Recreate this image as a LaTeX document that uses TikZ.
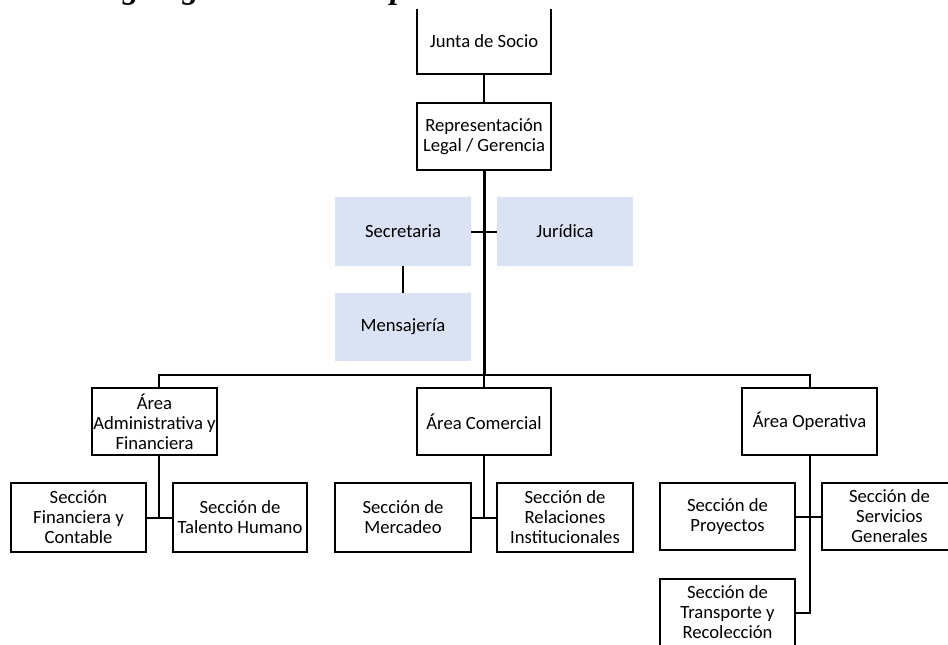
\documentclass[tikz,border=0pt]{standalone}
\usepackage{fontspec}
\setmainfont{Carlito}
\newfontfamily\titlefont{Liberation Serif}
\definecolor{boxblue}{HTML}{DAE3F3}
\begin{document}
\begin{tikzpicture}[x=0.75pt,y=-0.75pt,
  box/.style={draw=black, line width=1.5pt, fill=white, inner sep=1pt, align=center, font=\fontsize{14}{15}\selectfont},
  bluebox/.style={fill=boxblue, inner sep=1pt, align=center, font=\fontsize{14}{15}\selectfont},
  conn/.style={line width=1.5pt},
  mainline/.style={line width=2.25pt},
  titletext/.style={font=\titlefont\bfseries\itshape\fontsize{24.5}{29}\selectfont, inner sep=0pt, text height=17pt, text depth=5.5pt}]
\useasboundingbox (0,0) rectangle (948,645);
\node[titletext] (title) at (275,-9.5) {Organigrama de la empresa};
\begin{scope}
\clip (0,9.5) rectangle (948,645);
% top
\node[box, minimum width=100.5pt, minimum height=49.5pt] (junta) at (484,41) {\raisebox{-6pt}{Junta de Socio}};
\node[box, minimum width=100.5pt, minimum height=50.25pt] (rep) at (484,136.5) {Representación\\Legal / Gerencia};
% staff
\node[bluebox, minimum width=102pt, minimum height=51.75pt] (sec) at (403,231.5) {Secretaria};
\node[bluebox, minimum width=102pt, minimum height=51.75pt] (jur) at (565,231.5) {Jurídica};
\node[bluebox, minimum width=102pt, minimum height=51pt] (mens) at (403,327) {Mensajería};
% areas
\node[box, minimum width=92.25pt, minimum height=50.25pt] (admin) at (154.5,421.5) {Área\\Administrativa y\\Financiera};
\node[box, minimum width=100.5pt, minimum height=50.25pt] (comer) at (484,421.5) {Área Comercial};
\node[box, minimum width=101.25pt, minimum height=50.25pt] (oper) at (809.5,421.5) {Área Operativa};
% sections
\node[box, minimum width=101.25pt, minimum height=51.75pt] (fin) at (78.5,517.5) {Sección\\Financiera y\\Contable};
\node[box, minimum width=100.5pt, minimum height=51.75pt] (tal) at (240,517.5) {Sección de\\Talento Humano};
\node[box, minimum width=102pt, minimum height=51.75pt] (merc) at (403,517.5) {Sección de\\Mercadeo};
\node[box, minimum width=102pt, minimum height=51.75pt] (rel) at (565,517.5) {Sección de\\Relaciones\\Institucionales};
\node[box, minimum width=101.25pt, minimum height=50.25pt] (proj) at (727.5,516.5) {Sección de\\Proyectos};
\node[box, minimum width=101.25pt, minimum height=50.25pt] (serv) at (889.5,516.5) {Sección de\\Servicios\\Generales};
\node[box, minimum width=101.25pt, minimum height=50.25pt] (trans) at (727.5,612.5) {Sección de\\Transporte y\\Recolección};
% connectors
\coordinate (barL) at (159,375);
\coordinate (aj) at (159,517.5);
\draw[conn] (junta.south) -- (rep.north);
\draw[mainline] (rep.south) -- (rep.south |- barL);
\draw[conn] (sec.east) -- (jur.west);
\draw[conn] (sec.south) -- (mens.north);
\draw[conn] (barL |- admin.north) -- (barL) -- (oper.north |- barL) -- (oper.north);
\draw[conn] (comer.north) -- (comer.north |- barL);
\draw[conn] (aj |- admin.south) -- (aj);
\draw[conn] (fin.east) -- (tal.west);
\draw[conn] (comer.south) -- (comer.south |- merc.east);
\draw[conn] (merc.east) -- (rel.west);
\draw[conn] (oper.south) -- (oper.south |- trans.east) -- (trans.east);
\draw[conn] (proj.east) -- (serv.west);
\end{scope}
\end{tikzpicture}
\end{document}
